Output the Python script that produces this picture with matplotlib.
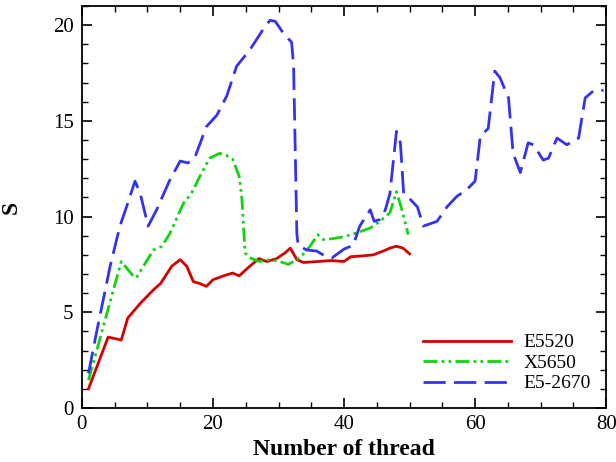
import matplotlib
matplotlib.use("Agg")
import matplotlib.pyplot as plt
from matplotlib.ticker import MultipleLocator

plt.rcParams["font.family"] = ["Liberation Serif", "DejaVu Serif"]

# E5520
e5520_x = [1, 4, 6, 7, 9, 11, 12, 13.7, 15, 16, 17, 18, 19, 20, 21.6, 23, 24, 25.6, 27,
           28.2, 29.7, 31, 31.8, 32.8, 33.8, 36, 38, 40, 41, 43, 44.5, 46, 47, 48, 49, 50]
e5520_y = [1.0, 3.7, 3.55, 4.7, 5.5, 6.2, 6.5, 7.4, 7.75, 7.4, 6.6, 6.5, 6.35, 6.7, 6.9, 7.05,
           6.9, 7.4, 7.8, 7.65, 7.8, 8.1, 8.35, 7.75, 7.6, 7.65, 7.7, 7.65, 7.9, 7.95, 8.0,
           8.2, 8.35, 8.45, 8.35, 8.05]

# X5650
x5650_x = [1, 6, 7.8, 8.3, 10.9, 12.2, 13.4, 15.5, 16.7, 18, 19.5, 21, 22, 23, 24, 24.4,
           24.9, 25.6, 27, 28.7, 30.2, 31.5, 33.3, 34.8, 36, 36.8, 38.4, 40, 42, 44, 45.5,
           47, 48, 48.8, 49.8]
x5650_y = [1.45, 7.65, 6.9, 6.8, 8.25, 8.45, 9.1, 10.7, 11.2, 12.1, 13.05, 13.3, 13.2, 13.0,
           12.1, 11.0, 8.1, 7.85, 7.65, 7.75, 7.65, 7.5, 7.85, 8.45, 9.05, 8.8, 8.85, 8.95,
           9.15, 9.4, 9.75, 10.2, 11.3, 10.4, 9.05]

# E5-2670
e52670_x = [1, 2.2, 4.3, 5.8, 6.8, 8.1, 8.9, 10.1, 11.4, 13.4, 15, 16.2, 17.3, 19, 20.6,
            22.1, 23.6, 25.6, 27.7, 28.7, 29.5, 30.7, 32, 32.3, 32.8, 33, 34.3, 35.8, 36.8,
            38.2, 40, 41.4, 42.4, 44, 44.6, 45.5, 46.3, 47, 48, 48.6, 49.1, 50.1, 51.2, 52.1,
            54.2, 55.7, 57.2, 58.7, 60, 60.8, 62, 63, 63.8, 65.1, 65.8, 66.9, 68.1, 68.9,
            70.4, 71.2, 72.5, 74, 75.8, 76.8, 78, 79.6]
e52670_y = [1.8, 3.9, 7.4, 9.5, 10.5, 11.85, 11.2, 9.5, 10.35, 11.9, 12.9, 12.8, 13.15, 14.7,
            15.3, 16.3, 17.85, 18.7, 19.8, 20.25, 20.2, 19.6, 19.1, 17.9, 9.1, 8.5, 8.25, 8.2,
            8.0, 7.85, 8.3, 8.5, 9.5, 10.35, 9.75, 9.85, 10.35, 11.2, 14.45, 13.85, 11.2,
            10.9, 10.5, 9.5, 9.75, 10.5, 11.05, 11.4, 11.85, 14.2, 14.6, 17.6, 17.25, 16.2,
            13.3, 12.3, 13.85, 13.75, 12.95, 13.05, 14.1, 13.75, 14.1, 16.2, 16.55, 16.6]

fig = plt.figure(figsize=(6.16, 4.62), dpi=100)
ax = fig.add_axes([0.133, 0.117, 0.851, 0.870])

ax.plot(e5520_x, e5520_y, color="#d40000", lw=2.0, label="E5520")
ax.plot(x5650_x, x5650_y, color="#11d411", lw=2.0, label="X5650",
        dashes=(5, 1.5, 1, 1.5, 1, 1.5))
ax.plot(e52670_x, e52670_y, color="#3333ee", lw=2.0, label="E5-2670",
        dashes=(8, 3))

ax.set_xlim(0, 80)
ax.set_ylim(0, 21)
ax.xaxis.set_major_locator(MultipleLocator(20))
ax.xaxis.set_minor_locator(MultipleLocator(5))
ax.yaxis.set_major_locator(MultipleLocator(5))
ax.yaxis.set_minor_locator(MultipleLocator(1))
ax.tick_params(which="both", direction="in", top=True, right=True, labelsize=15)
ax.tick_params(axis="x", which="major", pad=5)
ax.tick_params(axis="y", which="major", pad=6)
ax.tick_params(which="major", length=7, width=1.2)
ax.tick_params(which="minor", length=4, width=1.0)
for sp in ax.spines.values():
    sp.set_linewidth(1.3)

ax.set_xlabel("Number of thread", fontsize=17, fontweight="bold", labelpad=4)
ax.set_ylabel("S", fontsize=17, fontweight="bold", labelpad=22)

ax.legend(loc="lower right", frameon=False, fontsize=14, handlelength=4.5,
          labelspacing=0.15, handletextpad=0.65, borderaxespad=0.4)

fig.savefig("out.png", dpi=100)
